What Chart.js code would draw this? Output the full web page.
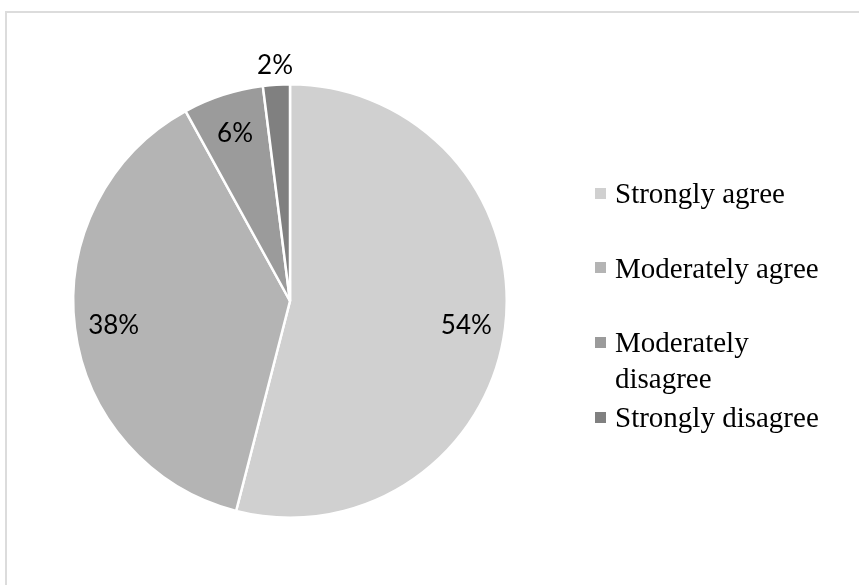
<!DOCTYPE html>
<html>
<head>
<meta charset="utf-8">
<script src="https://cdn.jsdelivr.net/npm/chart.js"></script>
<style>
  html, body { margin: 0; padding: 0; background: #fff; }
  #wrap { position: relative; width: 859px; height: 585px; overflow: hidden; }
  #frame {
    position: absolute; left: 5px; top: 11px; width: 900px; height: 700px;
    border-left: 2px solid #dcdcdc; border-top: 2px solid #dcdcdc;
  }
  #pie { position: absolute; left: 0; top: 0; }
  #legend { position: absolute; left: 595px; top: 175px; }
  .item { display: flex; align-items: flex-start; height: 74.7px; }
  .box { width: 11px; height: 11px; margin-top: 12.5px; margin-right: 9px; flex: none; }
  .txt {
    width: 220px; font-family: "Liberation Serif", "Times New Roman", serif;
    font-size: 29px; line-height: 36px; color: #000;
  }
</style>
</head>
<body>
<div id="wrap">
  <div id="frame"></div>
  <canvas id="pie" width="859" height="585"></canvas>
  <div id="legend"></div>
</div>
<script>
// Survey responses
const categories = ['Strongly agree', 'Moderately agree', 'Moderately disagree', 'Strongly disagree'];
const shares = [54, 38, 6, 2];
const sliceColors = ['#d0d0d0', '#b4b4b4', '#9b9b9b', '#808080'];

// draws the % labels, small slices go outside the pie
const pctLabels = {
  id: 'pctLabels',
  afterDatasetsDraw(chart) {
    const ctx = chart.ctx;
    const meta = chart.getDatasetMeta(0);
    ctx.save();
    ctx.font = '26px Lato, "Open Sans", sans-serif';
    ctx.fillStyle = '#000';
    ctx.textAlign = 'center';
    ctx.textBaseline = 'middle';
    meta.data.forEach((arc, i) => {
      const p = arc.getProps(['x', 'y', 'startAngle', 'endAngle', 'outerRadius'], true);
      const mid = (p.startAngle + p.endAngle) / 2;
      const v = shares[i];
      const dist = v < 3 ? p.outerRadius + 21 : p.outerRadius * 0.82;
      ctx.fillText(v + '%', p.x + Math.cos(mid) * dist, p.y + Math.sin(mid) * dist + 2);
    });
    ctx.restore();
  }
};

const chart = new Chart(document.getElementById('pie'), {
  type: 'pie',
  data: {
    labels: categories,
    datasets: [{
      data: shares,
      backgroundColor: sliceColors,
      borderColor: '#ffffff',
      borderWidth: 2.5
    }]
  },
  options: {
    responsive: false,
    animation: false,
    layout: { padding: { left: 72, right: 351, top: 83, bottom: 66 } },
    plugins: {
      legend: { display: false },
      tooltip: { enabled: false }
    }
  },
  plugins: [pctLabels]
});

// html legend so the long label can wrap like the original
const legendEl = document.getElementById('legend');
chart.data.labels.forEach((lab, i) => {
  const row = document.createElement('div');
  row.className = 'item';
  row.innerHTML = '<div class="box" style="background:' + sliceColors[i] + '"></div><div class="txt">' + lab + '</div>';
  legendEl.appendChild(row);
});
</script>
</body>
</html>
